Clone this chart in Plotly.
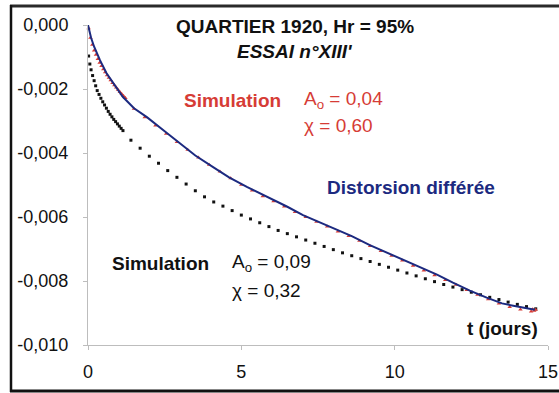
import plotly.graph_objects as go

# ---------------- data ----------------
# Distorsion différée (mesure)
t_mes = [0, 0.1, 0.2, 0.39, 0.6, 0.82, 1.14, 1.5, 1.92, 2.5, 3.0, 3.5, 4.08, 4.6, 5.18,
         5.93, 6.5, 7.01, 7.6, 8.12, 8.6, 9.19, 9.7, 10.27, 10.8, 11.38, 11.9, 12.45,
         13.0, 13.5, 14.0, 14.57]
v_mes = [0, -0.0004, -0.00068, -0.0011, -0.0015, -0.0018, -0.00225, -0.0026, -0.00288,
         -0.00332, -0.0037, -0.00408, -0.00444, -0.00476, -0.00506, -0.0054, -0.00568,
         -0.00594, -0.00618, -0.0064, -0.0066, -0.00688, -0.0071, -0.00734, -0.00757,
         -0.0078, -0.00805, -0.0083, -0.00852, -0.0087, -0.0088, -0.0089]

# Simulation A0 = 0,04 ; chi = 0,60 (rouge)
t_sim1 = [0.02, 0.08, 0.14, 0.2, 0.26, 0.32, 0.38, 0.44, 0.5, 0.56, 0.62, 0.68, 0.74, 0.8,
          0.86, 0.92, 0.98, 1.04, 1.1, 1.16, 1.22,
          1.5, 1.85, 2.2, 2.55, 2.9, 3.25, 3.6, 3.95, 4.3, 4.65, 5.0, 5.35, 5.7, 6.05, 6.4,
          6.75, 7.1, 7.45, 7.8, 8.15, 8.5, 8.85, 9.2, 9.55, 9.9, 10.25, 10.6, 10.95, 11.3,
          11.65, 12.0, 12.35, 12.7, 13.05, 13.4, 13.75, 14.1, 14.45, 14.5, 14.55, 14.6]
v_sim1 = [-0.0001, -0.0004, -0.00062, -0.0008, -0.00093, -0.00106, -0.00118, -0.00128,
          -0.00138, -0.00148, -0.00157, -0.00165, -0.00173, -0.00181, -0.00188, -0.00195,
          -0.00202, -0.00209, -0.00216, -0.00222, -0.00228,
          -0.00262, -0.00288, -0.00314, -0.0034, -0.00366, -0.0039, -0.00414, -0.00437,
          -0.00458, -0.00479, -0.00499, -0.00517, -0.00535, -0.00551, -0.00567, -0.00584,
          -0.006, -0.00615, -0.0063, -0.00645, -0.00659, -0.00674, -0.00691, -0.00706,
          -0.00721, -0.00736, -0.00752, -0.00767, -0.00782, -0.00797, -0.00812, -0.00828,
          -0.00843, -0.00857, -0.0087, -0.00881, -0.00889, -0.00895, -0.00888, -0.00893,
          -0.0089]

# Simulation A0 = 0,09 ; chi = 0,32 (noir)
t_sim2 = [0.02, 0.06, 0.1, 0.15, 0.2, 0.25, 0.3, 0.36, 0.42, 0.48, 0.54, 0.6, 0.66, 0.72,
          0.78, 0.84, 0.9, 0.96, 1.02, 1.08, 1.14,
          1.4, 1.7, 2.0, 2.3, 2.6, 2.9, 3.2, 3.5, 3.8, 4.1, 4.4, 4.7, 5.0, 5.3, 5.6, 5.9,
          6.2, 6.5, 6.8, 7.1, 7.4, 7.7, 8.0, 8.3, 8.6, 8.9, 9.2, 9.5, 9.8, 10.1, 10.4,
          10.7, 11.0, 11.3, 11.6, 11.9, 12.2, 12.5, 12.8, 13.1, 13.4, 13.7, 14.0, 14.3, 14.6]
v_sim2 = [-0.00097, -0.00122, -0.0014, -0.00158, -0.00174, -0.0019, -0.00205, -0.00217,
          -0.00229, -0.0024, -0.0025, -0.0026, -0.0027, -0.00279, -0.00287, -0.00295,
          -0.00302, -0.00309, -0.00316, -0.00323, -0.0033,
          -0.0036, -0.00385, -0.0041, -0.00432, -0.00455, -0.00476, -0.00497, -0.00518,
          -0.00537, -0.00553, -0.00566, -0.0058, -0.00594, -0.00606, -0.00618, -0.0063,
          -0.00642, -0.00652, -0.00662, -0.00672, -0.00682, -0.00692, -0.00702, -0.00712,
          -0.00721, -0.0073, -0.00739, -0.00748, -0.00757, -0.00766, -0.00775, -0.00784,
          -0.00793, -0.00802, -0.00811, -0.00819, -0.00827, -0.00835, -0.00843, -0.00851,
          -0.00858, -0.00866, -0.00873, -0.0088, -0.00887]

y_ticks = [0, -0.002, -0.004, -0.006, -0.008, -0.010]
y_tick_labels = ["0,000", "-0,002", "-0,004", "-0,006", "-0,008", "-0,010"]
x_ticks = [0, 5, 10, 15]
x_tick_labels = ["0", "5", "10", "15"]

# ---------------- layout geometry ----------------
W, H = 559, 393
L, R, T, B = 88, 11, 25, 48
PW, PH = W - L - R, H - T - B
FONT = "Arial, Liberation Sans, sans-serif"
RED = "#d63c36"
NAVY = "#1c2a80"
TXT = 19


def px(x):
    return (x - L) / PW


def py(y):
    return (H - B - y) / PH


fig = go.Figure()
fig.add_trace(go.Scatter(x=t_sim2, y=v_sim2, mode="markers",
                         marker=dict(symbol="square", size=3, color="#111111"),
                         cliponaxis=False, showlegend=False))
fig.add_trace(go.Scatter(x=t_sim1, y=v_sim1, mode="markers",
                         marker=dict(symbol="triangle-up", size=4, color=RED),
                         cliponaxis=False, showlegend=False))
fig.add_trace(go.Scatter(x=t_mes, y=v_mes, mode="lines",
                         line=dict(color=NAVY, width=2),
                         cliponaxis=False, showlegend=False))

axis_common = dict(showgrid=False, zeroline=False, showline=True, linecolor="#bdbdbd",
                   linewidth=1, ticks="outside", ticklen=4, tickcolor="#bdbdbd",
                   automargin=False,
                   tickfont=dict(family=FONT, size=18, color="#111111"))
fig.update_xaxes(range=[0, 15], tickvals=x_ticks, ticktext=x_tick_labels,
                 ticklabelstandoff=6, **axis_common)
fig.update_yaxes(range=[-0.010, 0], tickvals=y_ticks, ticktext=y_tick_labels,
                 ticklabelstandoff=11, **axis_common)


def note(text, x, y, color="#111111", size=TXT, bold=False, italic=False, anchor="left"):
    if bold:
        text = "<b>" + text + "</b>"
    if italic:
        text = "<i>" + text + "</i>"
    fig.add_annotation(text=text, xref="paper", yref="paper", x=px(x), y=py(y),
                       xanchor=anchor, yanchor="middle", showarrow=False,
                       font=dict(family=FONT, size=size, color=color))


note("QUARTIER 1920, Hr = 95%", 295, 27, bold=True, anchor="center")
note("ESSAI n°XIII'", 295, 51, bold=True, italic=True, anchor="center")
note("Simulation", 182, 100, color=RED, bold=True)
note("A<sub>o</sub> = 0,04", 302, 100, color=RED)
note("χ = 0,60", 302, 125, color=RED)
note("Distorsion différée", 325, 187, color=NAVY, bold=True)
note("Simulation", 110, 263, bold=True)
note("A<sub>o</sub> = 0,09", 230, 263)
note("χ = 0,32", 230, 290)
note("t (jours)", 465, 328, bold=True)


# outer frame (drawn as separate edges)
def edge(x0, y0, x1, y1, color, width):
    fig.add_shape(type="line", xref="paper", yref="paper",
                  x0=px(x0), y0=py(y0), x1=px(x1), y1=py(y1),
                  line=dict(color=color, width=width), layer="above")


edge(10, 6, 562, 6, "#2a2a2a", 3)
edge(11, 5, 11, 392, "#111111", 2.5)
edge(10, 391, 562, 391, "#111111", 3)

fig.update_layout(width=W, height=H, margin=dict(l=L, r=R, t=T, b=B, autoexpand=False),
                  paper_bgcolor="white", plot_bgcolor="white")

fig.write_html("out.html", config={"displayModeBar": False},
               post_script="document.body.style.margin='0';"
                           "document.body.style.overflow='hidden';")
